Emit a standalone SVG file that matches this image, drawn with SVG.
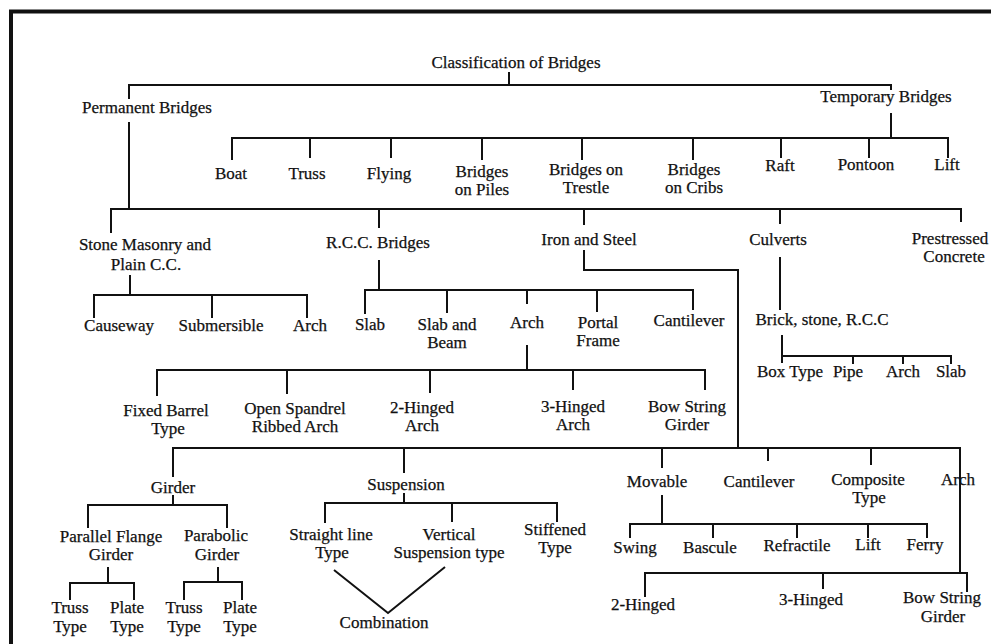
<svg xmlns="http://www.w3.org/2000/svg" width="991" height="644" viewBox="0 0 991 644">
<style>
.t{font-family:"Liberation Serif","Times New Roman",serif;font-size:17px;fill:#111;stroke:#111;stroke-width:0.25;text-anchor:middle}
.c path{fill:none;stroke:#111;stroke-width:2}
.b{stroke:#111;stroke-width:4}
</style>
<rect width="991" height="644" fill="#fff"/>
<line class="b" x1="9" y1="11.5" x2="991" y2="11.5"/>
<line class="b" x1="11" y1="10" x2="11" y2="644"/>
<g id="connectors" class="c">
<path d="M509,72V85M129,99V85H891V90"/>
<path d="M129,122V209M891,113V138"/>
<path d="M232,160V138H948V158M310,138V158M391,138V158M482,138V160M582,138V160M693,138V160M781,138V158M869,138V158"/>
<path d="M111,233V209H961V222M379,209V228M584,209V225M780,209V224"/>
<path d="M130,275V295M94,318V295H307V318M212,295V318"/>
<path d="M379,260V290M365,314V290H693V310M447,290V313M527,290V304M597,290V312"/>
<path d="M527,345V370M157,396V370H705V390M287,370V394M430,370V393M573,370V390"/>
<path d="M584,250V270H738V448"/>
<path d="M173,477V448H960V573M404,448V473M662,448V468M768,448V461M871,448V465"/>
<path d="M173,495V505M88,528V505H227V528"/>
<path d="M108,567V583M70,600V583H134V600"/>
<path d="M218,567V582M184,600V582H242V600"/>
<path d="M404,493V503M325,523V503H557V522M452,503V522"/>
<path d="M334,570L388,613L445,567"/>
<path d="M662,495V524M630,538V524H927V538M713,524V538M797,524V538M868,524V538"/>
<path d="M645,597V573H967V592M823,573V589"/>
<path d="M780,257V310M782,335V363M782,356H951V364M853,356V364M903,356V364"/>
</g>
<g id="root"><text class="t" x="516" y="68">Classification of Bridges</text></g>
<g id="permanent"><text class="t" x="147" y="113">Permanent Bridges</text></g>
<g id="temporary"><text class="t" x="886" y="102">Temporary Bridges</text></g>
<g id="boat"><text class="t" x="231" y="179">Boat</text></g>
<g id="truss"><text class="t" x="307" y="179">Truss</text></g>
<g id="flying"><text class="t" x="389" y="179">Flying</text></g>
<g id="piles"><text class="t"><tspan x="482" y="177">Bridges</tspan><tspan x="482" y="195">on Piles</tspan></text></g>
<g id="trestle"><text class="t"><tspan x="586" y="175">Bridges on</tspan><tspan x="586" y="193">Trestle</tspan></text></g>
<g id="cribs"><text class="t"><tspan x="694" y="175">Bridges</tspan><tspan x="694" y="193">on Cribs</tspan></text></g>
<g id="raft"><text class="t" x="780" y="171">Raft</text></g>
<g id="pontoon"><text class="t" x="866" y="170">Pontoon</text></g>
<g id="lift-temp"><text class="t" x="947" y="170">Lift</text></g>
<g id="stone"><text class="t"><tspan x="145" y="250">Stone Masonry and</tspan><tspan x="146" y="270">Plain C.C.</tspan></text></g>
<g id="rcc"><text class="t" x="378" y="248">R.C.C. Bridges</text></g>
<g id="iron"><text class="t" x="589" y="245">Iron and Steel</text></g>
<g id="culverts"><text class="t" x="778" y="245">Culverts</text></g>
<g id="prestressed"><text class="t"><tspan x="950" y="244">Prestressed</tspan><tspan x="954" y="262">Concrete</tspan></text></g>
<g id="causeway"><text class="t" x="119" y="331">Causeway</text></g>
<g id="submersible"><text class="t" x="221" y="331">Submersible</text></g>
<g id="stone-arch"><text class="t" x="310" y="331">Arch</text></g>
<g id="slab"><text class="t" x="370" y="330">Slab</text></g>
<g id="slab-beam"><text class="t"><tspan x="447" y="330">Slab and</tspan><tspan x="447" y="348">Beam</tspan></text></g>
<g id="rcc-arch"><text class="t" x="527" y="328">Arch</text></g>
<g id="portal"><text class="t"><tspan x="598" y="328">Portal</tspan><tspan x="598" y="346">Frame</tspan></text></g>
<g id="rcc-cantilever"><text class="t" x="689" y="326">Cantilever</text></g>
<g id="fixed-barrel"><text class="t"><tspan x="166" y="416">Fixed Barrel</tspan><tspan x="168" y="434">Type</tspan></text></g>
<g id="open-spandrel"><text class="t"><tspan x="295" y="414">Open Spandrel</tspan><tspan x="295" y="432">Ribbed Arch</tspan></text></g>
<g id="two-hinged-arch"><text class="t"><tspan x="422" y="413">2-Hinged</tspan><tspan x="422" y="431">Arch</tspan></text></g>
<g id="three-hinged-arch"><text class="t"><tspan x="573" y="412">3-Hinged</tspan><tspan x="573" y="430">Arch</tspan></text></g>
<g id="bow-string-rcc"><text class="t"><tspan x="687" y="412">Bow String</tspan><tspan x="687" y="430">Girder</tspan></text></g>
<g id="brick"><text class="t" x="822" y="325">Brick, stone, R.C.C</text></g>
<g id="box-type"><text class="t" x="790" y="377">Box Type</text></g>
<g id="pipe"><text class="t" x="848" y="377">Pipe</text></g>
<g id="culvert-arch"><text class="t" x="903" y="377">Arch</text></g>
<g id="culvert-slab"><text class="t" x="951" y="377">Slab</text></g>
<g id="girder"><text class="t" x="173" y="493">Girder</text></g>
<g id="suspension"><text class="t" x="406" y="490">Suspension</text></g>
<g id="movable"><text class="t" x="657" y="487">Movable</text></g>
<g id="iron-cantilever"><text class="t" x="759" y="487">Cantilever</text></g>
<g id="composite"><text class="t"><tspan x="868" y="485">Composite</tspan><tspan x="869" y="503">Type</tspan></text></g>
<g id="iron-arch"><text class="t" x="958" y="485">Arch</text></g>
<g id="parallel-flange"><text class="t"><tspan x="111" y="542">Parallel Flange</tspan><tspan x="111" y="560">Girder</tspan></text></g>
<g id="parabolic"><text class="t"><tspan x="216" y="541">Parabolic</tspan><tspan x="217" y="560">Girder</tspan></text></g>
<g id="truss-type-1"><text class="t"><tspan x="70" y="613">Truss</tspan><tspan x="70" y="632">Type</tspan></text></g>
<g id="plate-type-1"><text class="t"><tspan x="127" y="613">Plate</tspan><tspan x="127" y="632">Type</tspan></text></g>
<g id="truss-type-2"><text class="t"><tspan x="184" y="613">Truss</tspan><tspan x="184" y="632">Type</tspan></text></g>
<g id="plate-type-2"><text class="t"><tspan x="240" y="613">Plate</tspan><tspan x="240" y="632">Type</tspan></text></g>
<g id="straight-line"><text class="t"><tspan x="331" y="540">Straight line</tspan><tspan x="332" y="558">Type</tspan></text></g>
<g id="vertical-suspension"><text class="t"><tspan x="449" y="540">Vertical</tspan><tspan x="449" y="558">Suspension type</tspan></text></g>
<g id="stiffened"><text class="t"><tspan x="555" y="535">Stiffened</tspan><tspan x="555" y="553">Type</tspan></text></g>
<g id="combination"><text class="t" x="384" y="628">Combination</text></g>
<g id="swing"><text class="t" x="635" y="553">Swing</text></g>
<g id="bascule"><text class="t" x="710" y="553">Bascule</text></g>
<g id="refractile"><text class="t" x="797" y="551">Refractile</text></g>
<g id="lift-movable"><text class="t" x="868" y="550">Lift</text></g>
<g id="ferry"><text class="t" x="925" y="550">Ferry</text></g>
<g id="two-hinged"><text class="t" x="643" y="610">2-Hinged</text></g>
<g id="three-hinged"><text class="t" x="811" y="605">3-Hinged</text></g>
<g id="bow-string-iron"><text class="t"><tspan x="942" y="603">Bow String</tspan><tspan x="943" y="622">Girder</tspan></text></g>
</svg>
